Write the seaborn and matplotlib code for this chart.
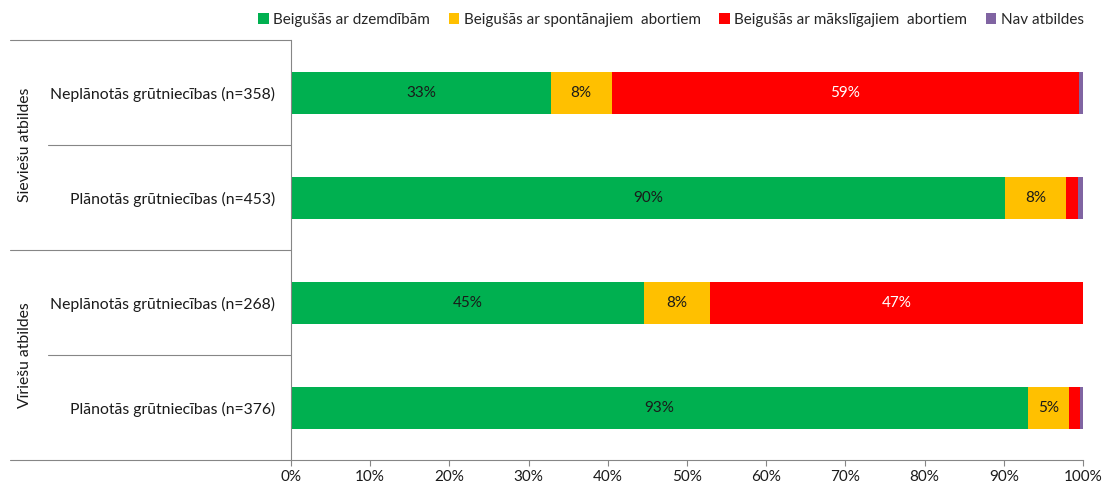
import pandas as pd
import matplotlib.pyplot as plt
import seaborn as sns

sns.set_theme(style="white")
plt.rcParams['font.family'] = ['Lato', 'DejaVu Sans']

# DATA
rows = ["Neplānotās grūtniecības (n=358)",
        "Plānotās grūtniecības (n=453)",
        "Neplānotās grūtniecības (n=268)",
        "Plānotās grūtniecības (n=376)"]
groups = ["Sieviešu atbildes", "Vīriešu atbildes"]

series = ["Beigušās ar dzemdībām",
          "Beigušās ar spontānajiem  abortiem",
          "Beigušās ar mākslīgajiem  abortiem",
          "Nav atbildes"]
births = [32.8, 90.2, 44.6, 93.0]
spontaneous = [7.7, 7.6, 8.3, 5.2]
induced = [59.0, 1.6, 47.1, 1.4]
no_answer = [0.5, 0.6, 0.0, 0.4]

colors = ["#00B050", "#FFC000", "#FF0000", "#8064A2"]
text_colors = ["#1a1a1a", "#1a1a1a", "white", "white"]

df = pd.DataFrame({"row": rows, series[0]: births, series[1]: spontaneous,
                   series[2]: induced, series[3]: no_answer})
cum = df[series].cumsum(axis=1)

fig = plt.figure(figsize=(11.05, 4.91), dpi=100)
ax = fig.add_axes([0.2633, 0.0631, 0.7168, 0.8554])

# STACKED BARS (draw from the longest cumulative down)
for i in range(len(series) - 1, -1, -1):
    sns.barplot(x=cum[series[i]], y=df["row"], color=colors[i], orient="h",
                width=0.4, saturation=1, edgecolor="none", ax=ax,
                label=series[i])

# LABELS INSIDE BARS
for r in range(len(rows)):
    start = 0
    for i, s in enumerate(series):
        v = df.loc[r, s]
        if v >= 3:
            ax.text(start + v / 2, r, f"{v:.0f}%", ha="center", va="center",
                    fontsize=11, color=text_colors[i])
        start += v

ax.set_xlim(0, 100)
ax.set_ylim(3.5, -0.5)
ax.set_xticks(range(0, 101, 10))
ax.set_xticklabels([f"{t}%" for t in range(0, 101, 10)])
ax.set_xlabel("")
ax.set_ylabel("")
ax.tick_params(axis="y", length=0, pad=11.5, labelsize=11.3, labelcolor="#1a1a1a")
ax.tick_params(axis="x", length=4, width=0.8, color="#868686", bottom=True,
               labelsize=11, labelcolor="#1a1a1a")
for side in ["top", "right"]:
    ax.spines[side].set_visible(False)
for side in ["left", "bottom"]:
    ax.spines[side].set_color("#868686")
    ax.spines[side].set_linewidth(0.8)

# GROUP SEPARATORS AND GROUP NAMES
trans = ax.get_yaxis_transform()
for yb in [-0.5, 1.5, 3.5]:
    ax.plot([-0.355, 0], [yb, yb], transform=trans, color="#868686", lw=0.8,
            clip_on=False)
for yb in [0.5, 2.5]:
    ax.plot([-0.307, 0], [yb, yb], transform=trans, color="#868686", lw=0.8,
            clip_on=False)
for g, yc in zip(groups, [0.5, 2.5]):
    ax.text(-0.336, yc, g, transform=trans, rotation=90, ha="center",
            va="center", fontsize=11.3, color="#1a1a1a")

# LEGEND
handles, labels = ax.get_legend_handles_labels()
order = [labels.index(s) for s in series]
ax.legend([handles[k] for k in order], [labels[k] for k in order],
          loc="center right", bbox_to_anchor=(1.009, 1.048), ncol=4,
          frameon=False, fontsize=11, handlelength=0.7, handleheight=0.7,
          handletextpad=0.3, columnspacing=1.2, borderaxespad=0)

fig.savefig("out.png", dpi=100)
